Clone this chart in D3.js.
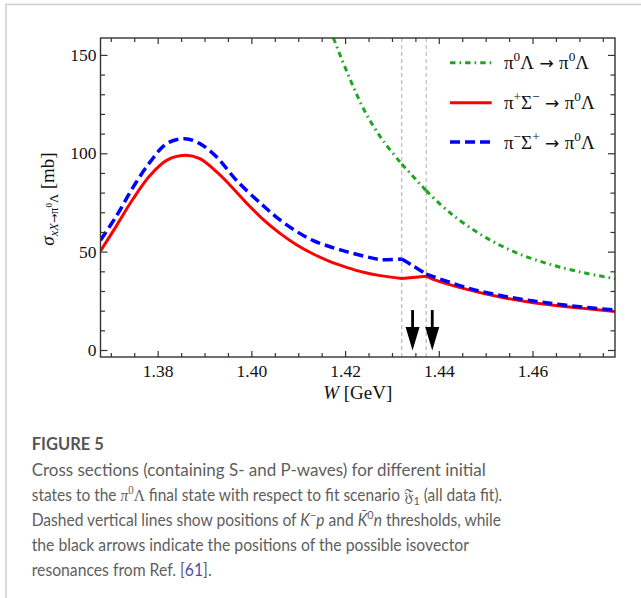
<!DOCTYPE html>
<html>
<head>
<meta charset="utf-8">
<script src="https://cdn.jsdelivr.net/npm/d3@7"></script>
<style>
  body { margin: 0; background: #fff; }
  svg { display: block; }
</style>
</head>
<body>
<div id="chart"></div>
<script>
var width = 641;
var height = 598;

// thresholds (K-p, K0bar n) and the isovector resonance positions, GeV
var thresholds = [1.4321, 1.4373];
var arrowW = [1.4344, 1.4386];

var xTicks = [1.38, 1.40, 1.42, 1.44, 1.46];
var yTicks = [0, 50, 100, 150];

var legendLabels = ["π0Λ → π0Λ", "π+Σ− → π0Λ", "π−Σ+ → π0Λ"];

// pi0 Lambda -> pi0 Lambda
var greenW = [1.4175, 1.4211, 1.4246, 1.4282, 1.4321, 1.4373, 1.4424, 1.4495, 1.4566, 1.4638, 1.4709, 1.4776];
var greenV = [158.6, 137.4, 119.6, 106.1, 94.5, 81.0, 69.7, 57.9, 49.4, 43.5, 39.3, 36.2];

// pi+ Sigma- -> pi0 Lambda
var redW = [1.3678, 1.3713, 1.3748, 1.3784, 1.3819, 1.3858, 1.3890, 1.3926, 1.3954, 1.3990, 1.4026, 1.4061,
  1.4097, 1.4132, 1.4168, 1.4203, 1.4239, 1.4275, 1.4321, 1.4373, 1.4388, 1.4460, 1.4531, 1.4602, 1.4673, 1.4776];
var redV = [50.3, 63.5, 77.0, 88.8, 96.4, 99.0, 97.3, 90.5, 83.9, 74.6, 66.1, 59.3,
  53.4, 48.8, 44.9, 42.0, 39.5, 37.8, 36.4, 37.5, 35.9, 30.8, 26.9, 24.0, 22.0, 19.6];

// pi- Sigma+ -> pi0 Lambda
var blueW = [1.3678, 1.3713, 1.3748, 1.3784, 1.3819, 1.3858, 1.3890, 1.3926, 1.3969, 1.4026, 1.4061, 1.4097,
  1.4132, 1.4168, 1.4203, 1.4239, 1.4275, 1.4321, 1.4346, 1.4373, 1.4460, 1.4531, 1.4602, 1.4673, 1.4776];
var blueV = [55.8, 68.5, 82.9, 95.6, 104.9, 107.4, 104.9, 98.1, 86.0, 73.2, 66.1, 60.2,
  55.6, 52.5, 50.0, 47.8, 46.0, 46.2, 42.6, 38.6, 31.6, 27.7, 24.9, 22.7, 20.3];

var svg = d3.select("#chart").append("svg")
  .attr("width", width)
  .attr("height", height);

// page frame
svg.append("path")
  .attr("d", "M6,598V4.5H641")
  .attr("fill", "none")
  .attr("stroke", "#cfcfcf")
  .attr("stroke-width", 1.5);

var x = d3.scaleLinear().domain([1.3678, 1.4776]).range([100.5, 615]);
var y = d3.scaleLinear().domain([-3.56, 158.6]).range([357, 38]);

var serif = "'Liberation Serif', 'DejaVu Serif', serif";
var arrowFont = "'DejaVu Sans', sans-serif";

svg.append("clipPath").attr("id", "plot")
  .append("rect")
  .attr("x", x.range()[0])
  .attr("y", y.range()[1])
  .attr("width", x.range()[1] - x.range()[0])
  .attr("height", y.range()[0] - y.range()[1]);

// threshold lines
svg.selectAll(".thr").data(thresholds).enter().append("line")
  .attr("x1", x).attr("x2", x)
  .attr("y1", y.range()[1]).attr("y2", y.range()[0])
  .attr("stroke", "#aaa")
  .attr("stroke-width", 1)
  .attr("stroke-dasharray", "4,3");

// split a series at the thresholds so the cusps stay sharp
function segments(ws, vs) {
  var out = [[]];
  ws.forEach(function(w, i) {
    out[out.length - 1].push([w, vs[i]]);
    if (thresholds.indexOf(w) >= 0) out.push([[w, vs[i]]]);
  });
  return out.filter(function(s) { return s.length > 1; });
}

var line = d3.line()
  .x(function(d) { return x(d[0]); })
  .y(function(d) { return y(d[1]); })
  .curve(d3.curveCatmullRom.alpha(0.5));

var series = [
  { w: greenW, v: greenV, color: "#1fa61f", sw: 3, dash: "5.5,4,1.6,4" },
  { w: redW, v: redV, color: "#ff0000", sw: 3, dash: null },
  { w: blueW, v: blueV, color: "#0000ff", sw: 3.5, dash: "10,5" }
];

var plot = svg.append("g").attr("clip-path", "url(#plot)");
series.forEach(function(s) {
  plot.append("path")
    .attr("d", segments(s.w, s.v).map(line).join(""))
    .attr("fill", "none")
    .attr("stroke", s.color)
    .attr("stroke-width", s.sw)
    .attr("stroke-dasharray", s.dash);
});

// arrows
arrowW.forEach(function(w) {
  var ax = x(w);
  svg.append("line")
    .attr("x1", ax).attr("x2", ax)
    .attr("y1", y(20.3)).attr("y2", y(11))
    .attr("stroke", "#000")
    .attr("stroke-width", 2.8);
  svg.append("path")
    .attr("d", "M" + (ax - 7) + "," + y(11.7) + "L" + (ax + 7) + "," + y(11.7) + "L" + ax + "," + y(-0.3) + "Z")
    .attr("fill", "#000");
});

// frame + ticks
var minorX = d3.range(274, 296).map(function(i) { return +(i * 0.005).toFixed(3); })
  .filter(function(d) { return xTicks.indexOf(d) < 0; });
var minorY = d3.range(0, 160, 10).filter(function(d) { return yTicks.indexOf(d) < 0; });

var axes = svg.append("g").attr("color", "#333");

function addAxis(axis, tx, ty) {
  var g = axes.append("g").attr("transform", "translate(" + tx + "," + ty + ")").call(axis);
  g.select(".domain").remove();
  g.selectAll("line").attr("stroke-width", 1.2);
  g.selectAll("text").attr("font-family", serif).attr("font-size", 17.5).attr("fill", "#111");
  return g;
}

addAxis(d3.axisBottom(x).tickValues(xTicks).tickSize(-6).tickPadding(8).tickFormat(d3.format(".2f")), 0, 357);
addAxis(d3.axisBottom(x).tickValues(minorX).tickSize(-4).tickFormat(""), 0, 357);
addAxis(d3.axisTop(x).tickValues(xTicks).tickSize(-6).tickFormat(""), 0, 38);
addAxis(d3.axisTop(x).tickValues(minorX).tickSize(-4).tickFormat(""), 0, 38);
addAxis(d3.axisLeft(y).tickValues(yTicks).tickSize(-7).tickPadding(4).tickFormat(d3.format("d")), 100.5, 0);
addAxis(d3.axisLeft(y).tickValues(minorY).tickSize(-4.5).tickFormat(""), 100.5, 0);
addAxis(d3.axisRight(y).tickValues(yTicks).tickSize(-7).tickFormat(""), 615, 0);
addAxis(d3.axisRight(y).tickValues(minorY).tickSize(-4.5).tickFormat(""), 615, 0);

axes.append("rect")
  .attr("x", 100.5).attr("y", 38)
  .attr("width", 615 - 100.5).attr("height", 357 - 38)
  .attr("fill", "none")
  .attr("stroke", "#333")
  .attr("stroke-width", 1.4);

// rich text helper: parts of [text, options]
function addRuns(sel, parts, base) {
  var off = 0;
  parts.forEach(function(p) {
    var o = p[1] || {};
    var shift = o.sup ? -0.42 * base : o.sub ? 0.25 * base : (o.shift || 0);
    var t = sel.append("tspan").text(p[0]).attr("dy", shift - off);
    off = shift;
    if (o.size) t.attr("font-size", o.size);
    else if (o.sup || o.sub) t.attr("font-size", base * 0.7);
    if (o.it) t.attr("font-style", "italic");
    if (o.ff) t.attr("font-family", o.ff);
    if (o.fill) t.attr("fill", o.fill);
  });
}

// axis titles
var xt = svg.append("text")
  .attr("x", (100.5 + 615) / 2).attr("y", 399)
  .attr("text-anchor", "middle")
  .attr("font-family", serif).attr("font-size", 19).attr("fill", "#111");
addRuns(xt, [["W", { it: true }], [" [GeV]"]], 19);

var yt = svg.append("text")
  .attr("transform", "translate(53.5,199) rotate(-90)")
  .attr("text-anchor", "middle")
  .attr("font-family", serif).attr("font-size", 19).attr("fill", "#111");
addRuns(yt, [
  ["σ", { it: true }],
  ["xX", { it: true, size: 12.5, shift: 4.5 }],
  ["→", { size: 11, shift: 4.5, ff: arrowFont }],
  ["π", { size: 12.5, shift: 4.5 }],
  ["0", { size: 9, shift: -1.5 }],
  ["Λ", { size: 12.5, shift: 4.5 }],
  [" [mb]", { shift: 0 }]
], 19);

// legend
var legendY = [62.7, 102.7, 142];
var arr = [" → ", { ff: arrowFont, size: 17 }];
var legendParts = [
  [["π"], ["0", { sup: true }], ["Λ"], arr, ["π"], ["0", { sup: true }], ["Λ"]],
  [["π"], ["+", { sup: true }], ["Σ"], ["−", { sup: true }], arr, ["π"], ["0", { sup: true }], ["Λ"]],
  [["π"], ["−", { sup: true }], ["Σ"], ["+", { sup: true }], arr, ["π"], ["0", { sup: true }], ["Λ"]]
];
series.forEach(function(s, i) {
  var g = svg.append("g").attr("class", "legend").attr("aria-label", legendLabels[i]);
  g.append("line")
    .attr("x1", 450).attr("x2", 491.7)
    .attr("y1", legendY[i]).attr("y2", legendY[i])
    .attr("stroke", s.color)
    .attr("stroke-width", s.sw)
    .attr("stroke-dasharray", s.dash);
  var t = g.append("text")
    .attr("x", 504).attr("y", legendY[i] + 6.5)
    .attr("font-family", serif).attr("font-size", 19).attr("fill", "#111");
  addRuns(t, legendParts[i], 19);
});

// caption
var capFont = "Lato, 'Open Sans', sans-serif";
var capFill = "#5e5e5e";
var capSize = 17;
svg.append("text")
  .attr("x", 31.7).attr("y", 450)
  .attr("font-family", capFont).attr("font-size", 16.5).attr("font-weight", 700)
  .attr("fill", "#555")
  .text("FIGURE 5");

var capLines = [
  [["Cross sections (containing S- and P-waves) for different initial"]],
  [["states to the "], ["π", { it: true, ff: serif }], ["0", { sup: true, ff: serif }], ["Λ", { ff: serif }],
    [" final state with respect to fit scenario "], ["𝔉", { ff: serif }], ["1", { sub: true }], [" (all data fit)."]],
  [["Dashed vertical lines show positions of "], ["K", { it: true }], ["−", { sup: true }], ["p", { it: true }],
    [" and "], ["K̄", { it: true }], ["0", { sup: true }], ["n", { it: true }], [" thresholds, while"]],
  [["the black arrows indicate the positions of the possible isovector"]],
  [["resonances from Ref. ["], ["61", { fill: "#4f4fa6" }], ["]."]]
];
// right ends of the caption lines in the figure; the figure's face is
// narrower than Lato, so each line is squeezed to end where it does there
var capEnds = [486, 503, 501.7, 469.3, 211.7];

capLines.forEach(function(parts, i) {
  var t = svg.append("text")
    .attr("font-family", capFont).attr("font-size", capSize)
    .attr("fill", capFill);
  addRuns(t, parts, capSize);
  var k = (capEnds[i] - 31.7) / t.node().getComputedTextLength();
  t.attr("transform", "translate(31.7," + (475.7 + i * 25) + ") scale(" + k + ",1)");
});
</script>
</body>
</html>
